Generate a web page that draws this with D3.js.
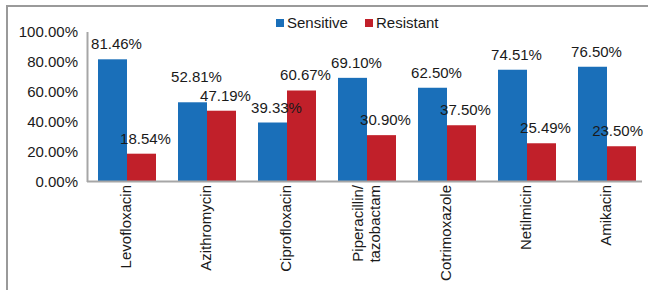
<!DOCTYPE html>
<html lang="en">
<head>
<meta charset="UTF-8">
<title>Sensitive vs Resistant</title>
<script src="https://cdn.jsdelivr.net/npm/d3@7"></script>
<style>
  body { margin: 0; background: #fff; }
  svg { font-family: "Liberation Sans", Arial, sans-serif; }
  .axis path { stroke: #a6a6a6; stroke-width: 2; }
  .axis text { font-size: 15px; fill: #1a1a1a; }
</style>
</head>
<body>
<script>
// data
const drugs = ["Levofloxacin", "Azithromycin", "Ciprofloxacin", "Piperacillin/ tazobactam",
               "Cotrimoxazole", "Netilmicin", "Amikacin"];
const sensitive = [81.46, 52.81, 39.33, 69.10, 62.50, 74.51, 76.50];
const resistant = [18.54, 47.19, 60.67, 30.90, 37.50, 25.49, 23.50];
const yTicks = [0, 20, 40, 60, 80, 100];
const seriesNames = ["Sensitive", "Resistant"];
const colors = ["#1a6fb9", "#c1202a"];

const W = 648, H = 290;
const svg = d3.select("body").append("svg").attr("width", W).attr("height", H);

// outer frame (runs off the right and bottom edges)
svg.append("rect")
  .attr("x", 7).attr("y", 6).attr("width", 660).attr("height", 300)
  .attr("fill", "none").attr("stroke", "#9a9a9a").attr("stroke-width", 2);

const x = d3.scaleBand().domain(drugs).range([87, 647]).paddingInner(0.275).paddingOuter(0.1375);
const x1 = d3.scaleBand().domain(seriesNames).range([0, x.bandwidth()]);
const y = d3.scaleLinear().domain([0, 100]).range([181.5, 31.5]);

// y axis
svg.append("g").attr("class", "axis")
  .attr("transform", "translate(87,0)")
  .call(d3.axisLeft(y).tickValues(yTicks).tickSize(0).tickPadding(9)
    .tickFormat(d => d.toFixed(2) + "%"))
  .selectAll("text").attr("dy", "0.32em");

const rows = drugs.map((d, i) => ({ drug: d, vals: [sensitive[i], resistant[i]] }));

const groups = svg.append("g").selectAll("g").data(rows).join("g")
  .attr("transform", d => `translate(${x(d.drug)},0)`);

groups.selectAll("rect").data(d => d.vals).join("rect")
  .attr("x", (v, j) => x1(seriesNames[j]))
  .attr("width", x1.bandwidth())
  .attr("y", v => y(v))
  .attr("height", v => y(0) - y(v))
  .attr("fill", (v, j) => colors[j]);

// value labels; lift the sensitive label when it would sit on the resistant one
groups.each(function(d) {
  const g = d3.select(this);
  const gx = x(d.drug);
  const by = d.vals.map(v => y(v) - 10);
  if (Math.abs(by[0] - by[1]) < 14 && by[0] > by[1] - 14) by[0] = by[1] - 19;
  d.vals.forEach((v, j) => {
    const t = g.append("text")
      .attr("y", by[j])
      .attr("text-anchor", "middle")
      .attr("font-size", 15)
      .attr("fill", "#1a1a1a")
      .text(v.toFixed(2) + "%");
    let cx = x1(seriesNames[j]) + x1.bandwidth() / 2 + 4;
    const half = t.node().getComputedTextLength() / 2;
    // keep the label inside the plot on the right
    if (gx + cx + half > 643) cx = 643 - half - gx;
    t.attr("x", cx);
  });
});

// x axis baseline + rotated category labels
const xa = svg.append("g").attr("class", "axis")
  .attr("transform", `translate(0,${y(0)})`)
  .call(d3.axisBottom(x).tickSize(0).tickFormat(""));
xa.select(".domain").attr("d", `M87,0H642`);

const lab = svg.append("g").selectAll("text").data(drugs).join("text")
  .attr("font-size", 15).attr("fill", "#1a1a1a")
  .attr("text-anchor", "end")
  .attr("transform", d => {
    const n = d.split(" ").length;
    return `translate(${x(d) + x.bandwidth() / 2 + 4 - (n - 1) * 8},185) rotate(-90)`;
  });
lab.selectAll("tspan").data(d => d.split(" ")).join("tspan")
  .attr("x", 0).attr("y", (s, i) => i * 16.5)
  .text(s => s);

// legend
const leg = svg.append("g").selectAll("g").data(seriesNames).join("g")
  .attr("transform", (d, i) => `translate(${[276, 365][i]},19)`);
leg.append("rect").attr("width", 8).attr("height", 8).attr("fill", (d, i) => colors[i]);
leg.append("text").attr("x", 11).attr("y", 9).attr("font-size", 15).attr("fill", "#1a1a1a").text(d => d);
</script>
</body>
</html>
